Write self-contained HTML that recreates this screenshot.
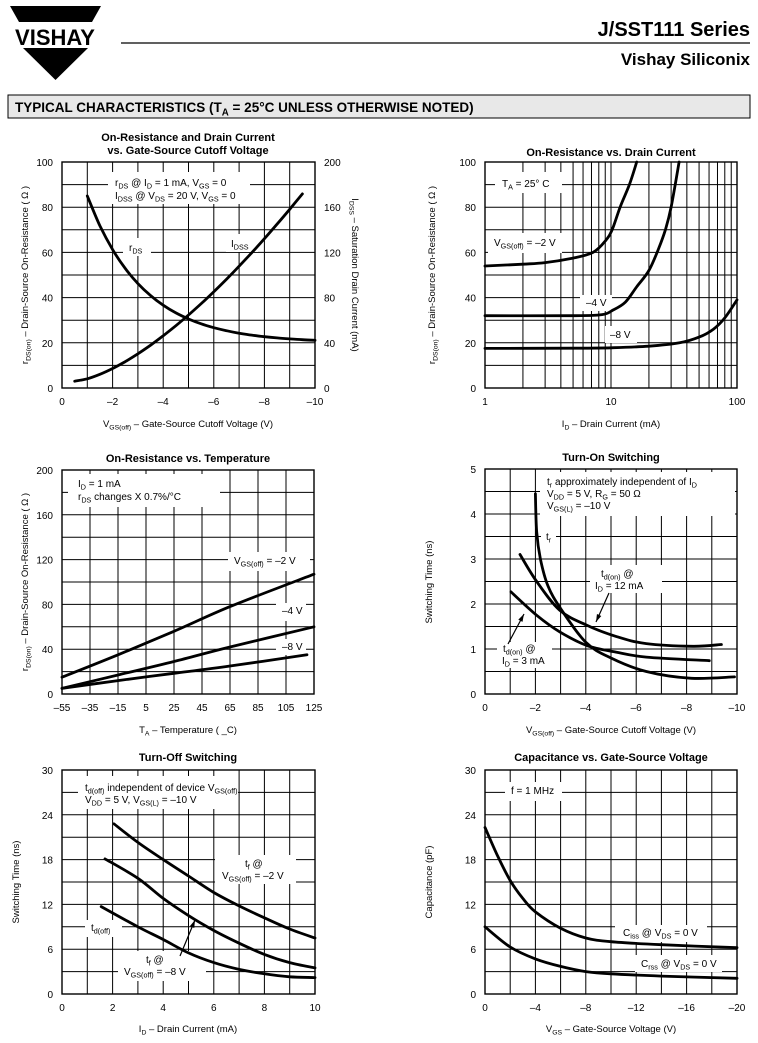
<!DOCTYPE html>
<html><head><meta charset="utf-8"><style>
html,body{margin:0;padding:0;background:#fff;}
svg{display:block;font-family:"Liberation Sans",Arial,sans-serif;}
</style></head><body>
<svg id="s" width="758" height="1043" viewBox="0 0 758 1043" xmlns="http://www.w3.org/2000/svg"></svg>
<script>
var S=document.getElementById('s');var out='';var cur='';
function esc(s){return s.replace(/&/g,'&amp;').replace(/</g,'&lt;');}
function T(x,y,str,o){o=o||{};var fs=o.fs||10;var a=o.anchor||'start';var tr=o.rot?(' transform="rotate('+o.rot+' '+x+' '+y+')"'):'';
 var h='<text x="'+x+'" y="'+y+'" font-size="'+fs+'" text-anchor="'+a+'"'+(o.bold?' font-weight="bold"':'')+tr+'>';
 var re=/_\{([^}]*)\}/g,last=0,m,sh=fs*0.25,pend=false;
 while((m=re.exec(str))){var seg=str.slice(last,m.index);
  if(pend){h+='<tspan dy="'+(-sh)+'">'+esc(seg)+'</tspan>';pend=false;}else h+=esc(seg);
  h+='<tspan dy="'+sh+'" font-size="'+(fs*0.72)+'">'+esc(m[1])+'</tspan>';pend=true;last=re.lastIndex;}
 var rest=str.slice(last);
 if(pend)h+='<tspan dy="'+(-sh)+'">'+esc(rest||' ')+'</tspan>';else h+=esc(rest);
 h+='</text>';out+=h;}
function R(x1,y1,x2,y2){out+='<rect x="'+x1+'" y="'+y1+'" width="'+(x2-x1)+'" height="'+(y2-y1)+'" fill="#fff"/>';}
function L(x1,y1,x2,y2,w){out+='<line x1="'+x1+'" y1="'+y1+'" x2="'+x2+'" y2="'+y2+'" stroke="#000" stroke-width="'+(w||1)+'"/>';}
function curve(pts){var d='M'+pts[0][0].toFixed(1)+','+pts[0][1].toFixed(1);
 for(var i=0;i<pts.length-1;i++){var p0=pts[i-1]||pts[i],p1=pts[i],p2=pts[i+1],p3=pts[i+2]||p2;
  d+='C'+(p1[0]+(p2[0]-p0[0])/6).toFixed(1)+','+(p1[1]+(p2[1]-p0[1])/6).toFixed(1)+' '+(p2[0]-(p3[0]-p1[0])/6).toFixed(1)+','+(p2[1]-(p3[1]-p1[1])/6).toFixed(1)+' '+p2[0].toFixed(1)+','+p2[1].toFixed(1);}
 cur+='<path d="'+d+'" fill="none" stroke="#000" stroke-width="2.8" stroke-linecap="round"/>';}
function arrow(x1,y1,x2,y2){var a=Math.atan2(y2-y1,x2-x1),l=8,w=0.3;
 cur+='<line x1="'+x1+'" y1="'+y1+'" x2="'+x2+'" y2="'+y2+'" stroke="#000" stroke-width="1.2"/>';
 cur+='<polygon points="'+x2+','+y2+' '+(x2-l*Math.cos(a-w))+','+(y2-l*Math.sin(a-w))+' '+(x2-l*Math.cos(a+w))+','+(y2-l*Math.sin(a+w))+'" fill="#000"/>';}
function Chart(x0,y0,x1,y1,xmin,xmax,ymin,ymax,log){this.x0=x0;this.y0=y0;this.x1=x1;this.y1=y1;this.xmin=xmin;this.xmax=xmax;this.ymin=ymin;this.ymax=ymax;this.log=log;}
Chart.prototype.px=function(v){if(this.log){return this.x0+(Math.log10(v)-Math.log10(this.xmin))/(Math.log10(this.xmax)-Math.log10(this.xmin))*(this.x1-this.x0);}return this.x0+(v-this.xmin)/(this.xmax-this.xmin)*(this.x1-this.x0);};
Chart.prototype.py=function(v){return this.y1-(v-this.ymin)/(this.ymax-this.ymin)*(this.y1-this.y0);};
Chart.prototype.grid=function(nx,ny){var i;
 if(this.log){for(var dec=1;dec<this.xmax;dec*=10)for(i=1;i<=10;i++){var x=this.px(dec*i);L(x,this.y0,x,this.y1);} }
 else for(i=1;i<nx;i++){var x=this.x0+i*(this.x1-this.x0)/nx;L(x,this.y0,x,this.y1);}
 for(i=1;i<ny;i++){var y=this.y0+i*(this.y1-this.y0)/ny;L(this.x0,y,this.x1,y);}
 cur+='<rect x="'+this.x0+'" y="'+this.y0+'" width="'+(this.x1-this.x0)+'" height="'+(this.y1-this.y0)+'" fill="none" stroke="#000" stroke-width="1.4"/>';};
Chart.prototype.yt=function(vals){for(var i=0;i<vals.length;i++)T(this.x0-9,this.py(vals[i][0])+4,vals[i][1],{anchor:'end',fs:10});};
Chart.prototype.xt=function(vals){for(var i=0;i<vals.length;i++)T(this.px(vals[i][0]),this.y1+17,vals[i][1],{anchor:'middle',fs:10});};
Chart.prototype.c=function(pts){var self=this;curve(pts.map(function(p){return [self.px(p[0]),self.py(p[1])];}));};

// header
out+='<polygon points="10,6 101,6 92,22 19,22" fill="#000"/>';
T(55,45,'VISHAY',{anchor:'middle',fs:22,bold:true});
out+='<polygon points="23,48 88,48 55.5,80" fill="#000"/>';
L(121,43,750,43,1.2);
T(750,36,'J/SST111 Series',{anchor:'end',fs:20,bold:true});
T(750,65,'Vishay Siliconix',{anchor:'end',fs:17,bold:true});
out+='<rect x="8" y="95" width="742" height="23" fill="#e8e8e8" stroke="#000" stroke-width="1"/>';
T(15,112,'TYPICAL CHARACTERISTICS (T_{A} = 25°C UNLESS OTHERWISE NOTED)',{fs:13.5,bold:true});

// Chart 1
var c=new Chart(62,162,315,388,0,10,0,100);
c.grid(10,10);
c.yt([[0,'0'],[20,'20'],[40,'40'],[60,'60'],[80,'80'],[100,'100']]);
c.xt([[0,'0'],[2,'–2'],[4,'–4'],[6,'–6'],[8,'–8'],[10,'–10']]);
[[0,'0'],[20,'40'],[40,'80'],[60,'120'],[80,'160'],[100,'200']].forEach(function(v){T(324,c.py(v[0])+4,v[1],{fs:10});});
T(188,141,'On-Resistance and Drain Current',{anchor:'middle',fs:11,bold:true});
T(188,154,'vs. Gate-Source Cutoff Voltage',{anchor:'middle',fs:11,bold:true});
T(188,427,'V_{GS(off)} – Gate-Source Cutoff Voltage (V)',{anchor:'middle',fs:9.5});
T(28,275,'r_{DS(on)} – Drain-Source On-Resistance ( Ω )',{anchor:'middle',fs:9.5,rot:-90});
T(352,275,'I_{DSS} – Saturation Drain Current (mA)',{anchor:'middle',fs:9.5,rot:90});
var p=[];for(var v=1;v<=10.01;v+=0.5)p.push([v,20+65*Math.exp(-(v-1)/2.2)]);c.c(p);
p=[];for(v=0.5;v<=9.51;v+=0.5)p.push([v,3+3.07*Math.pow(v-0.5,1.5)]);c.c(p);
R(108,172,250,204);T(115,186,'r_{DS} @ I_{D} = 1 mA, V_{GS} = 0',{fs:10});T(115,199,'I_{DSS} @ V_{DS} = 20 V, V_{GS} = 0',{fs:10});
R(123,238,151,256);T(129,251,'r_{DS}',{fs:10});
R(226,234,258,252);T(231,247,'I_{DSS}',{fs:10});

// Chart 2
c=new Chart(485,162,737,388,1,100,0,100,true);
c.grid(0,10);
c.yt([[0,'0'],[20,'20'],[40,'40'],[60,'60'],[80,'80'],[100,'100']]);
c.xt([[1,'1'],[10,'10'],[100,'100']]);
T(611,156,'On-Resistance vs. Drain Current',{anchor:'middle',fs:11,bold:true});
T(611,427,'I_{D} – Drain Current (mA)',{anchor:'middle',fs:9.5});
T(435,275,'r_{DS(on)} – Drain-Source On-Resistance ( Ω )',{anchor:'middle',fs:9.5,rot:-90});
c.c([[1,54],[2,54.8],[3,55.5],[5,57.5],[7.2,60],[9,65],[10.2,70],[11.8,80],[14,90],[16,100]]);
c.c([[1,32],[5,32],[8.5,32.5],[10.4,34.5],[13,38],[16,44.8],[20,52],[24,62],[27,70],[30,80],[34.7,100]]);
c.c([[1,17.5],[5,17.6],[10,17.8],[20,18.5],[35,20],[50,22.5],[65,26],[80,31],[100,39]]);
R(495,172,562,193);T(502,187,'T_{A} = 25° C',{fs:10});
R(488,233,562,253);T(494,246,'V_{GS(off)} = –2 V',{fs:10});
R(580,295,612,311);T(586,306,'–4 V',{fs:10});
R(605,326,637,343);T(610,338,'–8 V',{fs:10});

// Chart 3
c=new Chart(62,470,314,694,-55,125,0,200);
c.grid(9,10);
c.yt([[0,'0'],[40,'40'],[80,'80'],[120,'120'],[160,'160'],[200,'200']]);
c.xt([[-55,'–55'],[-35,'–35'],[-15,'–15'],[5,'5'],[25,'25'],[45,'45'],[65,'65'],[85,'85'],[105,'105'],[125,'125']]);
T(188,462,'On-Resistance vs. Temperature',{anchor:'middle',fs:11,bold:true});
T(188,733,'T_{A} – Temperature ( _C)',{anchor:'middle',fs:9.5});
T(28,582,'r_{DS(on)} – Drain-Source On-Resistance ( Ω )',{anchor:'middle',fs:9.5,rot:-90});
c.c([[-55,15],[-15,35],[25,56],[65,78],[125,107]]);
c.c([[-55,5],[-15,17],[25,29],[65,42],[125,60]]);
c.c([[-55,5],[-15,12],[25,18.5],[65,25],[120,35]]);
R(68,474,220,507);T(78,487,'I_{D} = 1 mA',{fs:10});T(78,500,'r_{DS} changes X 0.7%/°C',{fs:10});
R(228,552,310,571);T(234,564,'V_{GS(off)} = –2 V',{fs:10});
R(276,603,306,621);T(282,614,'–4 V',{fs:10});
R(276,639,306,655);T(282,650,'–8 V',{fs:10});

// Chart 4
c=new Chart(485,469,737,694,0,10,0,5);
c.grid(10,10);
c.yt([[0,'0'],[1,'1'],[2,'2'],[3,'3'],[4,'4'],[5,'5']]);
c.xt([[0,'0'],[2,'–2'],[4,'–4'],[6,'–6'],[8,'–8'],[10,'–10']]);
T(611,461,'Turn-On Switching',{anchor:'middle',fs:11,bold:true});
T(611,733,'V_{GS(off)} – Gate-Source Cutoff Voltage (V)',{anchor:'middle',fs:9.5});
T(432,582,'Switching Time (ns)',{anchor:'middle',fs:9.5,rot:-90});
c.c([[2,4.45],[2.05,3.6],[2.2,3.0],[2.5,2.4],[3,1.9],[4,1.15],[5,0.8],[6.4,0.5],[8.2,0.35],[9.9,0.38]]);
c.c([[1.39,3.1],[2.05,2.5],[2.97,1.86],[4.03,1.53],[5.2,1.28],[6.4,1.12],[8.26,1.06],[9.38,1.1]]);
c.c([[1.03,2.27],[2.05,1.75],[2.97,1.38],[4.03,1.08],[5.2,0.93],[6.4,0.82],[8.9,0.74]]);
R(540,472,735,516);T(547,485,'t_{r} approximately independent of I_{D}',{fs:10});T(547,497,'V_{DD} = 5 V, R_{G} = 50 Ω',{fs:10});T(547,509,'V_{GS(L)} = –10 V',{fs:10});
R(541,528,556,546);T(546,540,'t_{r}',{fs:10});
R(590,565,662,593);T(601,577,'t_{d(on)} @',{fs:10});T(595,589,'I_{D} = 12 mA',{fs:10});
arrow(609,593,596,622);
R(497,642,552,668);T(503,652,'t_{d(on)} @',{fs:10});T(502,664,'I_{D} = 3 mA',{fs:10});
arrow(508,644,524,614);

// Chart 5
c=new Chart(62,770,315,994,0,10,0,30);
c.grid(10,10);
c.yt([[0,'0'],[6,'6'],[12,'12'],[18,'18'],[24,'24'],[30,'30']]);
c.xt([[0,'0'],[2,'2'],[4,'4'],[6,'6'],[8,'8'],[10,'10']]);
T(188,761,'Turn-Off Switching',{anchor:'middle',fs:11,bold:true});
T(188,1032,'I_{D} – Drain Current (mA)',{anchor:'middle',fs:9.5});
T(19,882,'Switching Time (ns)',{anchor:'middle',fs:9.5,rot:-90});
c.c([[2.05,22.8],[3,20.3],[4,18],[5,15.8],[6,13.6],[7,11.8],[8,10.2],[9,8.7],[10,7.5]]);
c.c([[1.7,18.1],[3,15.5],[4,12.8],[5,10.5],[6,8.5],[7,6.8],[8,5.3],[9,4.2],[10,3.5]]);
c.c([[1.55,11.7],[3,9],[4,7.3],[5,5.5],[6,4.2],[7,3.3],[8,2.7],[9,2.3],[10,2.2]]);
R(78,776,238,809);T(85,791,'t_{d(off)} independent of device V_{GS(off)}',{fs:10});T(85,803,'V_{DD} = 5 V, V_{GS(L)} = –10 V',{fs:10});
R(215,855,296,884);T(245,867,'t_{f} @',{fs:10});T(222,879,'V_{GS(off)} = –2 V',{fs:10});
R(85,920,122,937);T(91,931,'t_{d(off)}',{fs:10});
R(118,951,206,981);T(146,963,'t_{f} @',{fs:10});T(124,975,'V_{GS(off)} = –8 V',{fs:10});
arrow(180,956,195,920);

// Chart 6
c=new Chart(485,770,737,994,0,20,0,30);
c.grid(10,10);
c.yt([[0,'0'],[6,'6'],[12,'12'],[18,'18'],[24,'24'],[30,'30']]);
c.xt([[0,'0'],[4,'–4'],[8,'–8'],[12,'–12'],[16,'–16'],[20,'–20']]);
T(611,761,'Capacitance vs. Gate-Source Voltage',{anchor:'middle',fs:11,bold:true});
T(611,1032,'V_{GS} – Gate-Source Voltage (V)',{anchor:'middle',fs:9.5});
T(432,882,'Capacitance (pF)',{anchor:'middle',fs:9.5,rot:-90});
c.c([[0,22.3],[1,18.5],[2,15.2],[3,12.8],[4,11],[6,8.8],[8,7.5],[10,7],[14,6.6],[20,6.2]]);
c.c([[0,9],[2,6.3],[4,4.7],[6,3.7],[8,3],[10,2.7],[14,2.4],[20,2.1]]);
R(505,782,562,801);T(511,794,'f = 1 MHz',{fs:10});
R(615,925,707,942);T(623,936,'C_{iss} @ V_{DS} = 0 V',{fs:10});
R(635,955,722,972);T(641,967,'C_{rss} @ V_{DS} = 0 V',{fs:10});

S.innerHTML=out+cur;
</script>
</body></html>
